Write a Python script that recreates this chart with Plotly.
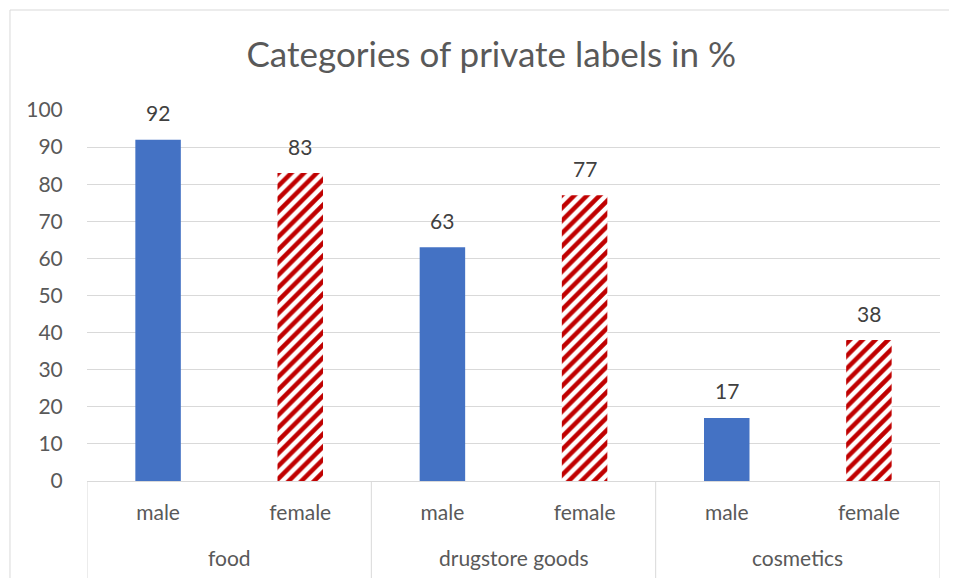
import plotly.graph_objects as go

# data
categories = ['food', 'drugstore goods', 'cosmetics']
genders = ['male', 'female']
male = [92, 63, 17]
female = [83, 77, 38]

fnt = 'Lato, Carlito, Calibri, sans-serif'

# each group takes two slots on the x axis: male, then female
male_x = [2 * i for i in range(len(categories))]
female_x = [2 * i + 1 for i in range(len(categories))]
tick_pos = [2 * i + j for i in range(len(categories)) for j in range(len(genders))]
tick_txt = [g for _ in categories for g in genders]

fig = go.Figure()

fig.add_trace(go.Bar(
    x=male_x, y=male, name='male', width=0.32,
    marker=dict(color='#4472C4', line=dict(width=0)),
))

fig.add_trace(go.Bar(
    x=female_x, y=female, name='female', width=0.32,
    marker=dict(
        color='white',
        line=dict(width=0),
        pattern=dict(shape='/', fgcolor='#C00000', bgcolor='white', fgopacity=1,
                     size=9, solidity=0.5, fillmode='overlay'),
    ),
))

annos = []
# value labels above the bars
for xs, vals in [(male_x, male), (female_x, female)]:
    for x, v in zip(xs, vals):
        annos.append(dict(x=x, y=v, xref='x', yref='y', text=str(v), showarrow=False,
                          yanchor='middle', yshift=27,
                          font=dict(size=21, color='#404040', family=fnt)))
# group names under the gender labels
for i, cat in enumerate(categories):
    annos.append(dict(x=2 * i + 0.5, y=-0.205, xref='x', yref='paper', text=cat,
                      showarrow=False, yanchor='middle',
                      font=dict(size=21, color='#595959', family=fnt)))

# category separators, Excel style
shapes = []
for k in range(len(categories) + 1):
    shapes.append(dict(type='line', xref='x', yref='paper', x0=2 * k - 0.5, x1=2 * k - 0.5,
                       y0=0, y1=-0.4, line=dict(color='#D9D9D9', width=1)))
# chart border
shapes.append(dict(type='rect', xref='paper', yref='paper',
                   x0=-0.0903, x1=1.2, y0=-0.5, y1=1.2695,
                   line=dict(color='#D9D9D9', width=1), fillcolor='rgba(0,0,0,0)',
                   layer='below'))

fig.update_layout(
    width=957, height=578,
    barmode='overlay',
    showlegend=False,
    paper_bgcolor='white',
    plot_bgcolor='white',
    font=dict(family=fnt, size=21, color='#595959'),
    margin=dict(l=79, r=25, t=102, b=105),
    title=dict(text='Categories of private labels in %', x=0.505, xanchor='center',
               y=0.919, yanchor='middle', xref='container', yref='container',
               font=dict(size=35, color='#595959', family=fnt)),
    xaxis=dict(
        range=[-0.5, 2 * len(categories) - 0.5],
        tickmode='array', tickvals=tick_pos, ticktext=tick_txt,
        showline=True, linecolor='#D9D9D9', linewidth=1,
        showgrid=False, zeroline=False,
        tickfont=dict(size=21, color='#595959'),
        ticks='outside', ticklen=13, tickcolor='rgba(0,0,0,0)',
    ),
    yaxis=dict(
        range=[0, 100], dtick=10,
        showgrid=True, gridcolor='#D9D9D9', gridwidth=1,
        zeroline=False, showline=False,
        ticks='outside', ticklen=19, tickcolor='rgba(0,0,0,0)',
        tickfont=dict(size=21, color='#595959'),
    ),
    annotations=annos,
    shapes=shapes,
)

fig.write_html('out.html')
